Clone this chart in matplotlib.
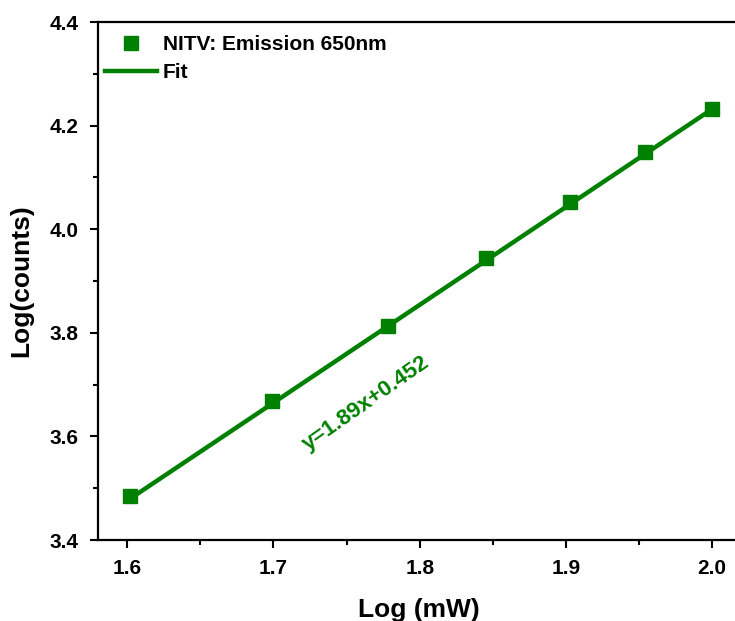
import numpy as np
import matplotlib
matplotlib.use("Agg")
import matplotlib.pyplot as plt
from matplotlib.ticker import MultipleLocator

# log10 of laser power (mW) and log10 of emission counts
log_power = [1.602, 1.699, 1.778, 1.845, 1.903, 1.954, 2.000]
log_counts = [3.485, 3.668, 3.813, 3.944, 4.053, 4.149, 4.232]

# linear fit parameters
slope = 1.89
intercept = 0.452

plt.rcParams['font.family'] = ['Liberation Sans', 'DejaVu Sans']
plt.rcParams['font.weight'] = 'bold'

green = '#008000'

fig = plt.figure(figsize=(7.35, 6.21), dpi=100)
ax = fig.add_axes([98 / 735, 81 / 621, 642 / 735, 518 / 621])

x = np.array(log_power)
fit = slope * x + intercept

ax.plot(log_power, log_counts, 's', color=green, markersize=10.5,
        label='NITV: Emission 650nm', zorder=3)
ax.plot(x, fit, '-', color=green, linewidth=3.2, label='Fit', zorder=2)

ax.text(1.763, 3.664, 'y=1.89x+0.452', color=green, fontsize=16,
        fontweight='bold', rotation=35, rotation_mode='anchor',
        ha='center', va='center')

ax.set_xlim(1.58, 2.019)
ax.set_ylim(3.4, 4.4)
ax.xaxis.set_major_locator(MultipleLocator(0.1))
ax.xaxis.set_minor_locator(MultipleLocator(0.05))
ax.yaxis.set_major_locator(MultipleLocator(0.2))
ax.yaxis.set_minor_locator(MultipleLocator(0.1))
ax.xaxis.set_major_formatter(matplotlib.ticker.FormatStrFormatter('%.1f'))
ax.yaxis.set_major_formatter(matplotlib.ticker.FormatStrFormatter('%.1f'))

ax.tick_params(which='major', direction='out', length=6, width=1.5,
               labelsize=15, pad=8)
ax.tick_params(which='minor', direction='out', length=3.5, width=1.5)
ax.tick_params(top=False, right=False, which='both')
for s in ax.spines.values():
    s.set_linewidth(1.6)
ax.spines['right'].set_visible(False)

ax.set_xlabel('Log (mW)', fontsize=19, fontweight='bold', labelpad=14)
ax.set_ylabel('Log(counts)', fontsize=19, fontweight='bold', labelpad=12)

ax.legend(loc='upper left', bbox_to_anchor=(0.004, 0.982), frameon=False,
          fontsize=15, handlelength=2.5, handletextpad=0.3,
          labelspacing=0.4, borderaxespad=0, borderpad=0.2)

plt.savefig('out.png', dpi=100)
